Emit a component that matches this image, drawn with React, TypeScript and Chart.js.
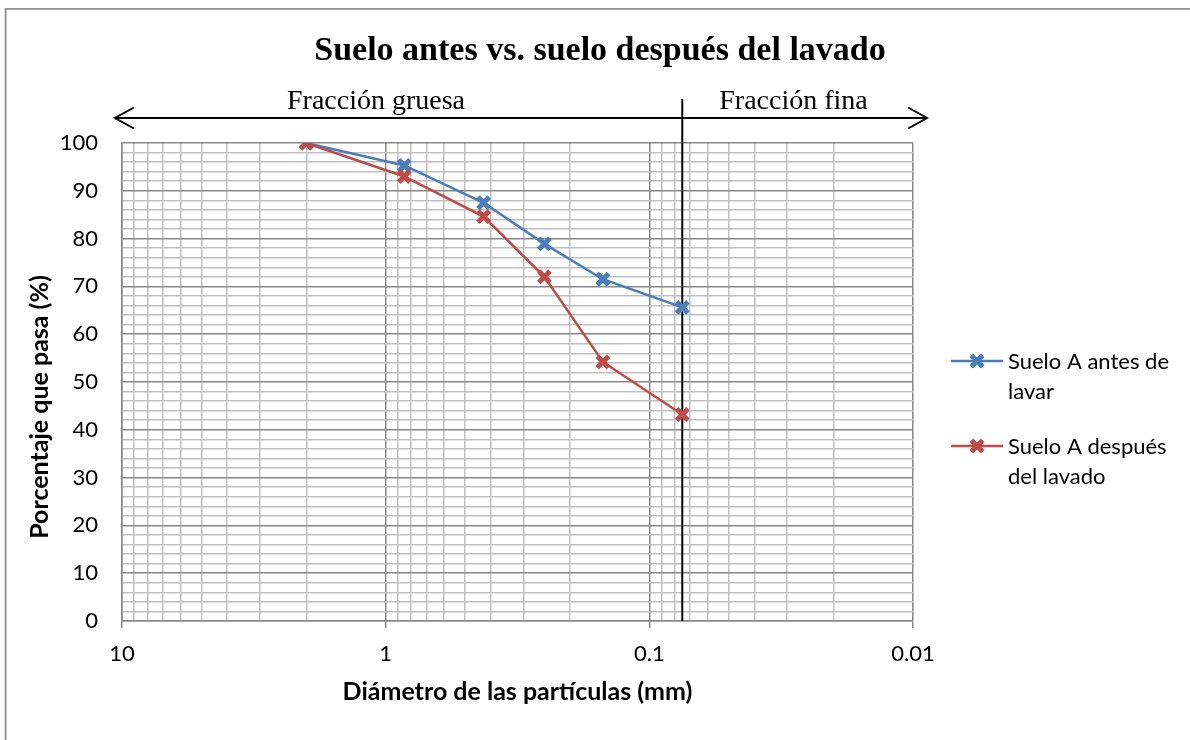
import React, { useEffect, useRef } from "react";
import { Chart, registerables } from "chart.js";

Chart.register(...registerables);

// ---- data ----
const sieveSizes = [2.0, 0.85, 0.425, 0.25, 0.15, 0.075];
const beforeWash = [100, 95.3, 87.5, 78.9, 71.5, 65.6];
const afterWash = [100, 93.0, 84.6, 72.0, 54.2, 43.2];
const seriesNames = ["Suelo A antes de lavar", "Suelo A después del lavado"];
const legendLines = [
  ["Suelo A antes de", "lavar"],
  ["Suelo A después", "del lavado"],
];
const xMajorTicks = [10, 1, 0.1, 0.01];
const xMinorMultipliers = [2, 3, 4, 5, 6, 7, 8, 9];
const yTickLabels = [0, 10, 20, 30, 40, 50, 60, 70, 80, 90, 100];
const yMinorStep = 2;
const fractionLabels = ["Fracción gruesa", "Fracción fina"];
const fineLimit = 0.075;
const chartTitle = "Suelo antes vs. suelo después del lavado";
const xTitle = "Diámetro de las partículas (mm)";
const yTitle = "Porcentaje que pasa (%)";

const BLUE = "#4A7EBB";
const RED = "#BE4B48";
const GRID_MAJOR = "#878787";
const GRID_MINOR = "#c0c0c0";
const SANS = "Lato, 'Open Sans', sans-serif";
const SERIF = "'Liberation Serif', 'DejaVu Serif', serif";

function buildXTicks() {
  const vals: number[] = [...xMajorTicks];
  const bases = xMajorTicks.slice(1);
  for (const b of bases) {
    for (const k of xMinorMultipliers) vals.push(parseFloat((b * k).toPrecision(6)));
  }
  return vals.sort((a, b) => b - a).map((v) => ({ value: v }));
}

function buildYTicks() {
  const vals: { value: number }[] = [];
  const max = yTickLabels[yTickLabels.length - 1];
  for (let v = yTickLabels[0]; v <= max; v += yMinorStep) vals.push({ value: v });
  return vals;
}

const isXMajor = (v: number) => xMajorTicks.some((m) => Math.abs(m - v) < 1e-9);
const isYMajor = (v: number) => yTickLabels.includes(v);

function drawX(ctx: CanvasRenderingContext2D, x: number, y: number, r: number, color: string, lw: number) {
  const o = r * Math.SQRT1_2;
  ctx.save();
  ctx.strokeStyle = color;
  ctx.lineWidth = lw;
  ctx.beginPath();
  ctx.moveTo(x - o, y - o);
  ctx.lineTo(x + o, y + o);
  ctx.moveTo(x - o, y + o);
  ctx.lineTo(x + o, y - o);
  ctx.stroke();
  ctx.restore();
}

const decorPlugin = {
  id: "decor",
  beforeDraw(chart: any) {
    const ctx = chart.ctx as CanvasRenderingContext2D;
    ctx.save();
    ctx.fillStyle = "#ffffff";
    ctx.fillRect(0, 0, chart.width, chart.height);
    ctx.strokeStyle = "#8e8e8e";
    ctx.lineWidth = 1.8;
    ctx.beginPath();
    ctx.moveTo(5.6, chart.height);
    ctx.lineTo(5.6, 8.8);
    ctx.lineTo(chart.width, 8.8);
    ctx.stroke();
    ctx.restore();
  },
  beforeDatasetsDraw(chart: any) {
    const ctx = chart.ctx as CanvasRenderingContext2D;
    const area = chart.chartArea;
    const x = chart.scales.x.getPixelForValue(fineLimit);
    ctx.save();
    ctx.strokeStyle = "#000000";
    ctx.lineWidth = 2;
    ctx.beginPath();
    ctx.moveTo(x, area.top - 44);
    ctx.lineTo(x, area.bottom);
    ctx.stroke();
    ctx.restore();
  },
  afterDraw(chart: any) {
    const ctx = chart.ctx as CanvasRenderingContext2D;
    const area = chart.chartArea;
    const divX = chart.scales.x.getPixelForValue(fineLimit);

    // chart title
    ctx.save();
    ctx.fillStyle = "#000000";
    ctx.font = `bold 34px ${SERIF}`;
    ctx.textAlign = "center";
    ctx.textBaseline = "alphabetic";
    ctx.fillText(chartTitle, 600, 60);

    // y axis title
    ctx.save();
    ctx.translate(48, 407);
    ctx.rotate(-Math.PI / 2);
    ctx.font = `bold 25px ${SANS}`;
    ctx.textAlign = "center";
    ctx.textBaseline = "alphabetic";
    ctx.fillText(yTitle, 0, 0);
    ctx.restore();

    // double arrow
    const ay = area.top - 25;
    const lx = area.left - 7;
    const rx = area.right + 14;
    ctx.strokeStyle = "#000000";
    ctx.lineWidth = 2;
    ctx.lineCap = "round";
    ctx.beginPath();
    ctx.moveTo(lx, ay);
    ctx.lineTo(rx, ay);
    ctx.moveTo(lx + 18, ay - 10);
    ctx.lineTo(lx, ay);
    ctx.lineTo(lx + 18, ay + 10);
    ctx.moveTo(rx - 18, ay - 10);
    ctx.lineTo(rx, ay);
    ctx.lineTo(rx - 18, ay + 10);
    ctx.stroke();
    // fraction labels
    ctx.font = `28px ${SERIF}`;
    ctx.textAlign = "left";
    ctx.fillText(fractionLabels[0], area.left + 165, ay - 9);
    ctx.fillText(fractionLabels[1], divX + 37, ay - 9);
    ctx.restore();

    // legend
    const legendOrder = [0, 1];
    const ly = [361, 446];
    const x0 = area.right + 38;
    ctx.save();
    legendOrder.forEach((di, i) => {
      const ds = chart.data.datasets[di];
      const y = ly[i];
      ctx.strokeStyle = ds.borderColor;
      ctx.lineWidth = 2.5;
      ctx.beginPath();
      ctx.moveTo(x0, y);
      ctx.lineTo(x0 + 52, y);
      ctx.stroke();
      drawX(ctx, x0 + 26, y, ds.pointRadius, ds.borderColor, ds.pointBorderWidth);
      ctx.fillStyle = "#000000";
      ctx.font = `22px ${SANS}`;
      ctx.textAlign = "left";
      ctx.textBaseline = "middle";
      legendLines[di].forEach((line, j) => {
        ctx.fillText(line, x0 + 57, y + 1 + j * 30);
      });
    });
    ctx.restore();
  },
};

export default function App() {
  const canvasRef = useRef<HTMLCanvasElement | null>(null);

  useEffect(() => {
    if (!canvasRef.current) return;
    const mk = (vals: number[]) => sieveSizes.map((s, i) => ({ x: s, y: vals[i] }));
    const common = {
      borderWidth: 2.5,
      pointStyle: "crossRot",
      pointRadius: 8,
      pointBorderWidth: 5,
      tension: 0,
    };
    const chart = new Chart(canvasRef.current, {
      type: "line",
      data: {
        datasets: [
          {
            label: seriesNames[0],
            data: mk(beforeWash),
            borderColor: BLUE,
            backgroundColor: BLUE,
            pointBorderColor: BLUE,
            pointBackgroundColor: BLUE,
            order: 2,
            ...common,
          },
          {
            label: seriesNames[1],
            data: mk(afterWash),
            borderColor: RED,
            backgroundColor: RED,
            pointBorderColor: RED,
            pointBackgroundColor: RED,
            order: 1,
            ...common,
          },
        ],
      },
      options: {
        responsive: false,
        animation: false,
        layout: { padding: { left: 0, right: 277, top: 143, bottom: 0 } },
        plugins: {
          legend: { display: false },
          tooltip: { enabled: false },
          title: { display: false },
        },
        scales: {
          x: {
            type: "logarithmic",
            min: 0.01,
            max: 10,
            reverse: true,
            afterBuildTicks: (scale: any) => {
              scale.ticks = buildXTicks();
            },
            afterFit: (scale: any) => {
              scale.height = 119;
            },
            grid: {
              color: (c: any) => (c.tick && isXMajor(c.tick.value) ? GRID_MAJOR : GRID_MINOR),
              tickColor: (c: any) => (c.tick && isXMajor(c.tick.value) ? GRID_MAJOR : "rgba(0,0,0,0)"),
              lineWidth: 1.5,
              drawTicks: true,
              tickLength: 7,
            },
            border: { display: true, color: GRID_MAJOR, width: 1.5 },
            ticks: {
              autoSkip: false,
              maxRotation: 0,
              padding: 13,
              color: "#000000",
              font: { family: SANS, size: 22 },
              callback: (v: any) => (isXMajor(Number(v)) ? String(v) : ""),
            },
            title: {
              display: true,
              text: xTitle,
              color: "#000000",
              font: { family: SANS, size: 25, weight: "bold" },
              padding: { top: 0, bottom: 33 },
            },
          },
          y: {
            type: "linear",
            min: 0,
            max: 100,
            afterBuildTicks: (scale: any) => {
              scale.ticks = buildYTicks();
            },
            afterFit: (scale: any) => {
              scale.width = 122;
            },
            grid: {
              color: (c: any) => (c.tick && isYMajor(c.tick.value) ? GRID_MAJOR : GRID_MINOR),
              lineWidth: 1.5,
              drawTicks: false,
            },
            border: { display: true, color: GRID_MAJOR, width: 1.5 },
            ticks: {
              autoSkip: false,
              padding: 24,
              color: "#000000",
              font: { family: SANS, size: 22 },
              callback: (v: any) => (isYMajor(Number(v)) ? String(v) : ""),
            },
            title: { display: false },
          },
        },
      },
      plugins: [decorPlugin],
    } as any);
    return () => chart.destroy();
  }, []);

  return (
    <div style={{ position: "absolute", left: 0, top: 0, width: 1190, height: 740, background: "#fff" }}>
      <canvas ref={canvasRef} width={1190} height={740} style={{ display: "block" }} />
    </div>
  );
}
